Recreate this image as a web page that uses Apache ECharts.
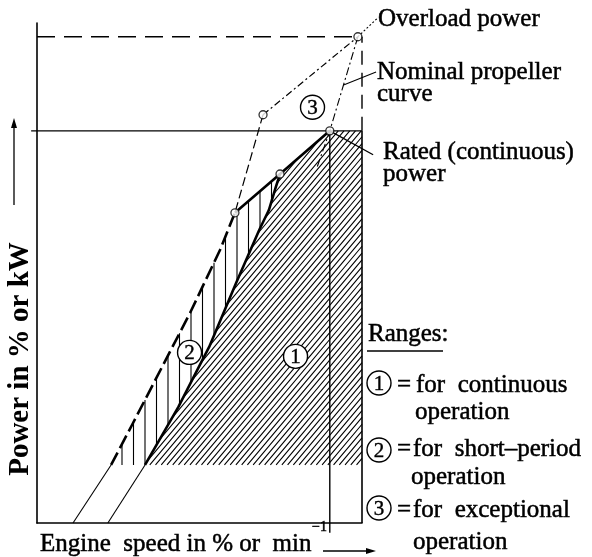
<!DOCTYPE html>
<html><head><meta charset="utf-8">
<script src="https://cdn.jsdelivr.net/npm/echarts@6/dist/echarts.min.js"></script>
<style>html,body{margin:0;padding:0;background:#fff}#c{width:592px;height:557px}</style>
</head><body><div id="c"></div>
<script>
// ---- data (x: engine speed %, y: power %) ----
const xMax = 111, yMax = 127.5;
const ratedPoint = [100, 100];
const overloadPoint = [109.6, 124];
const pointA = [77.2, 104.1];
const pointB = [67.6, 79.1];
const pointC = [83.0, 89.0];
const overloadLevel = [[0, 124], [111, 124]];
const ratedLevel = [[-2, 100], [111, 100]];
const ratedSpeedLine = [[100, -2.5], [100, 100]];
const frameSolid = [[111, 0], [111, 100]];
const frameDashed = [[111, 100], [111, 124]];
const leftLineThin = [[12.3, 0], [25.3, 14.8]];
const leftLineThick = [[25.3, 14.8], [32.8, 25.5], [52.3, 53.6], [62.5, 69.6], [67.6, 79.1]];
const rightCurveThin = [[24.2, 0], [36.9, 14.8]];
const rightCurveThick = [[36.9, 14.8], [48.3, 29.6], [53.0, 36.5], [58.8, 44.9], [68.0, 61.2], [75.9, 74.7], [79.2, 79.8], [81.5, 85.5], [83.0, 89.0]];
const upperLine = [pointB, pointC, ratedPoint];
const overloadLine = [pointA, overloadPoint];
const linkAB = [pointA, pointB];
const propellerCurve = [overloadPoint, ratedPoint, [95.6, 90.6]];
const hatchBottom = 14.8;
const leaderOverload = [overloadPoint, [116.1, 128.6]];
const leaderPropeller = [[104.7, 111.7], [115.8, 115.0]];
const leaderRated = [ratedPoint, [114.8, 93.9]];
const regionNames = ['1', '2', '3'];
const regionLabelPos = [[88.3, 42.5], [52.1, 43.5], [94.1, 106]];

const region1 = rightCurveThick.concat([ratedPoint, [111, 100], [111, hatchBottom]]);
const region2 = leftLineThick.concat([pointC]).concat(rightCurveThick.slice(0, -1).reverse());

// ---- hatching: lines clipped to a polygon (pixel space) ----
function hatchPath(poly, theta, spacing, phase) {
  const dx = Math.cos(theta), dy = -Math.sin(theta);
  const nx = Math.sin(theta), ny = Math.cos(theta);
  const cs = poly.map(p => p[0] * nx + p[1] * ny);
  const cmin = Math.min.apply(null, cs), cmax = Math.max.apply(null, cs);
  let d = '';
  const n = poly.length;
  for (let c = Math.ceil((cmin - phase) / spacing) * spacing + phase; c <= cmax; c += spacing) {
    const hits = [];
    for (let i = 0; i < n; i++) {
      const a = poly[i], b = poly[(i + 1) % n], ca = cs[i], cb = cs[(i + 1) % n];
      if ((ca - c) * (cb - c) < 0) {
        const t = (c - ca) / (cb - ca);
        hits.push([a[0] + t * (b[0] - a[0]), a[1] + t * (b[1] - a[1])]);
      }
    }
    hits.sort((p, q) => (p[0] * dx + p[1] * dy) - (q[0] * dx + q[1] * dy));
    for (let k = 0; k + 1 < hits.length; k += 2) {
      d += 'M' + hits[k][0].toFixed(2) + ' ' + hits[k][1].toFixed(2) + 'L' + hits[k + 1][0].toFixed(2) + ' ' + hits[k + 1][1].toFixed(2);
    }
  }
  return d;
}
function hatchSeries(pts, theta, spacing, phase, width) {
  return {
    type: 'custom', data: pts, silent: true, animation: false, z: 1, clip: false,
    renderItem: function (params, api) {
      if (params.dataIndex !== 0) return null;
      const px = pts.map(p => api.coord(p));
      return { type: 'path', shape: { pathData: hatchPath(px, theta, spacing, phase) },
        style: { fill: null, stroke: '#000', lineWidth: width } };
    }
  };
}
function lineS(pts, width, dash, z) {
  return {
    type: 'custom', data: pts, silent: true, animation: false, clip: false, z: z || 3,
    renderItem: function (params, api) {
      if (params.dataIndex !== 0) return null;
      return { type: 'polyline', shape: { points: pts.map(p => api.coord(p)) },
        style: { fill: null, stroke: '#000', lineWidth: width, lineDash: dash || null, lineJoin: 'round' } };
    }
  };
}
const FF = '"Liberation Serif", "DejaVu Serif", serif';
function txt(text, x, y, size, extra) {
  return Object.assign({ type: 'text', x: x, y: y, z: 20,
    style: { text: text, fontSize: size, fontFamily: FF, fill: '#000', stroke: '#000', lineWidth: 0.5,
      textAlign: 'left', textVerticalAlign: 'middle', align: 'left', verticalAlign: 'middle' } }, extra || {});
}
function circEl(cx, cy, digit) {
  return [
    { type: 'circle', z: 20, shape: { cx: cx, cy: cy, r: 12 }, style: { fill: '#fff', stroke: '#000', lineWidth: 1.4 } },
    { type: 'text', z: 21, x: cx, y: cy + 1, style: { text: digit, fontSize: 21, fontFamily: FF, fill: '#000',
      stroke: '#000', lineWidth: 0.4,
      textAlign: 'center', textVerticalAlign: 'middle', align: 'center', verticalAlign: 'middle' } }
  ];
}

const chart = echarts.init(document.getElementById('c'), null, { renderer: 'canvas' });
chart.setOption({
  animation: false,
  backgroundColor: '#fff',
  grid: { left: 37, top: 23, width: 325, height: 500 },
  xAxis: { type: 'value', min: 0, max: xMax, axisLine: { show: true, onZero: false, lineStyle: { color: '#000', width: 1.6 } },
    axisTick: { show: false }, axisLabel: { show: false }, splitLine: { show: false } },
  yAxis: { type: 'value', min: 0, max: yMax, axisLine: { show: true, onZero: false, lineStyle: { color: '#000', width: 1.6 } },
    axisTick: { show: false }, axisLabel: { show: false }, splitLine: { show: false } },
  series: [
    hatchSeries(region1, 50 * Math.PI / 180, 4.4, 0, 1.1),
    hatchSeries(region2, Math.PI / 2, 11.5, 122, 1.1),
    lineS(overloadLevel, 1.4, [18, 9]),
    lineS(ratedLevel, 1.4),
    lineS(ratedSpeedLine, 1.4),
    lineS(frameSolid, 1.6),
    lineS(frameDashed, 1.4, [14, 8]),
    lineS(leftLineThin, 1.1),
    lineS(leftLineThick, 2.6, [14, 5]),
    lineS(rightCurveThin, 1.1),
    lineS(rightCurveThick, 2.6),
    lineS(upperLine, 2.6),
    lineS(overloadLine, 1.2, [7, 3, 2, 3]),
    lineS(linkAB, 1.2, [9, 4]),
    lineS(propellerCurve, 1.1, [8, 3, 2, 3]),
    lineS(leaderOverload, 1.1, [2, 2]),
    lineS(leaderPropeller, 1.1),
    lineS(leaderRated, 1.3),
    { type: 'scatter', data: [pointA, pointB, pointC, ratedPoint, overloadPoint], symbol: 'circle', symbolSize: 8,
      clip: false, silent: true, z: 6, itemStyle: { color: '#fff', borderColor: '#000', borderWidth: 1.3 } },
    { type: 'custom', data: regionLabelPos, silent: true, animation: false, clip: false, z: 7,
      renderItem: function (params, api) {
        const p = api.coord(regionLabelPos[params.dataIndex]);
        return { type: 'group', children: circEl(p[0], p[1], regionNames[params.dataIndex]) };
      } }
  ],
  graphic: [
    txt('Overload power', 378, 19, 25),
    txt('Nominal propeller', 377, 72, 25),
    txt('curve', 377, 94, 25),
    txt('Rated (continuous)', 383, 152, 25),
    txt('power', 383, 174, 25),
    txt('Ranges:', 368, 334, 25),
    { type: 'line', z: 20, shape: { x1: 367, y1: 351, x2: 443, y2: 351 }, style: { stroke: '#000', lineWidth: 1.6 } },
    ...circEl(379, 383, '1'),
    txt('=', 397, 385, 25),
    txt('for  continuous', 416, 385, 25),
    txt('operation', 415, 412, 25),
    ...circEl(379, 450, '2'),
    txt('=', 397, 449, 25),
    txt('for  short\u2013period', 413, 449, 25),
    txt('operation', 411, 477, 25),
    ...circEl(379, 508, '3'),
    txt('=', 397, 510, 25),
    txt('for  exceptional', 413, 510, 25),
    txt('operation', 413, 542, 25),
    txt('Engine  speed in % or  min', 40, 544, 25),
    txt('\u22121', 312, 527, 14),
    { type: 'line', z: 20, shape: { x1: 323, y1: 551, x2: 368, y2: 551 }, style: { stroke: '#000', lineWidth: 1.3 } },
    { type: 'polygon', z: 20, shape: { points: [[376, 551], [366, 548], [366, 554]] }, style: { fill: '#000' } },
    { type: 'text', z: 20, x: 21, y: 359, rotation: Math.PI / 2,
      style: { text: 'Power in % or kW', fontSize: 29, fontWeight: 'bold', fontFamily: FF, fill: '#000',
        textAlign: 'center', textVerticalAlign: 'middle', align: 'center', verticalAlign: 'middle' } },
    { type: 'line', z: 20, shape: { x1: 14, y1: 205, x2: 14, y2: 127 }, style: { stroke: '#000', lineWidth: 1.3 } },
    { type: 'polygon', z: 20, shape: { points: [[14, 118], [11, 128], [17, 128]] }, style: { fill: '#000' } }
  ]
});
</script></body></html>
